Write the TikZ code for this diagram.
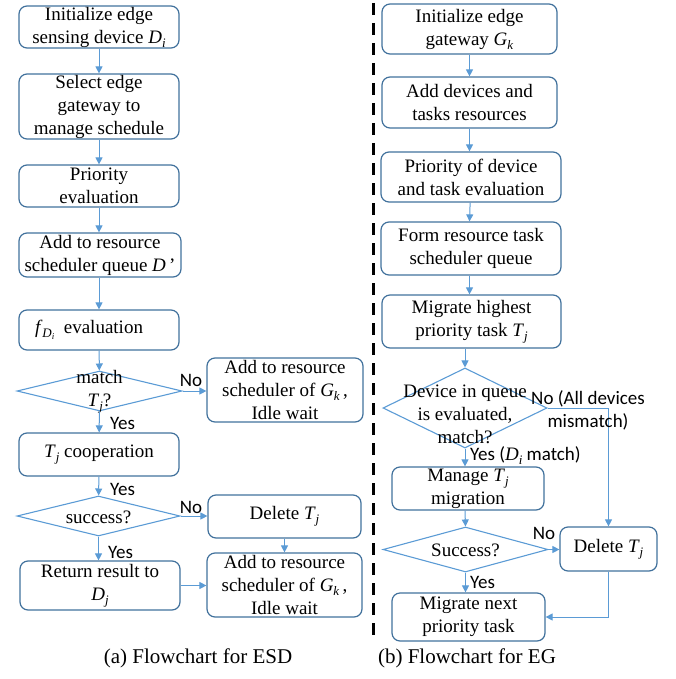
\documentclass[tikz,border=0pt]{standalone}
\usepackage{fontspec}
\setmainfont{Liberation Serif}
\newfontfamily\labfont{Carlito}
\newfontfamily\serfont{Liberation Serif}
\usetikzlibrary{shapes.geometric,arrows.meta}
\definecolor{boxc}{HTML}{41719C}
\definecolor{arrc}{HTML}{5B9BD5}
\newcommand\vsub[2]{\textit{#1}\raisebox{-4pt}{\fontsize{13}{13}\selectfont\textit{#2}}}
\begin{document}
\begin{tikzpicture}[x=1pt,y=-1pt,
  box/.style={draw=boxc,line width=1.2pt,rounded corners=8pt,inner sep=0pt,align=center,
    font=\serfont\fontsize{19}{23}\selectfont},
  dia/.style={draw=arrc,line width=1.1pt,shape=diamond,inner sep=0pt},
  dtext/.style={align=center,inner sep=0pt,font=\serfont\fontsize{19}{23}\selectfont},
  lab/.style={inner sep=0pt,align=center,font=\labfont\fontsize{19}{23}\selectfont},
  arr/.style={draw=arrc,line width=1pt,-{Triangle[length=7pt,width=7pt]}},
  captext/.style={inner sep=0pt,font=\serfont\fontsize{21}{25}\selectfont}]
\useasboundingbox (0,0) rectangle (675,679);
% ---------- left flowchart ----------
\node[box,minimum width=160pt,minimum height=42pt] (l1) at (99,27) {Initialize edge\\sensing device \vsub{D}{i}};
\node[box,minimum width=160pt,minimum height=65pt] (l2) at (99,106.5) {Select edge\\gateway to\\manage schedule};
\node[box,minimum width=160pt,minimum height=42pt] (l3) at (99,186) {Priority\\evaluation};
\node[box,minimum width=162pt,minimum height=44pt] (l4) at (100,255) {Add to resource\\scheduler queue \textit{D}\,’};
\node[box,minimum width=160pt,minimum height=40pt] (l5) at (99,330) {\textit{f}\raisebox{-4pt}{\fontsize{13}{13}\selectfont\textit{D}\raisebox{-2pt}{\fontsize{9}{9}\selectfont\textit{i}}}\ \ evaluation\hspace*{20pt}};
\node[dia,minimum width=165pt,minimum height=40pt] (d1) at (99.5,391) {};
\node[dtext] (d1t) at (99.5,391.5) {match\\\vsub{T}{j}?};
\node[box,minimum width=156pt,minimum height=64pt] (r1) at (285,390) {Add to resource\\scheduler of \vsub{G}{k}\,,\\Idle wait};
\node[box,minimum width=160pt,minimum height=43pt] (l6) at (99,454.5) {\vsub{T}{j} cooperation};
\node[dia,minimum width=163pt,minimum height=40pt] (d2) at (98.5,516) {};
\node[dtext] (d2t) at (98.5,517) {success?};
\node[box,minimum width=153pt,minimum height=43pt] (r2) at (284.5,516.5) {Delete \vsub{T}{j}};
\node[box,minimum width=155pt,minimum height=64pt] (r3) at (284.5,585) {Add to resource\\scheduler of \vsub{G}{k}\,,\\Idle wait};
\node[box,minimum width=160pt,minimum height=49pt] (l7) at (100,585.5) {Return result to\\\vsub{D}{j}};
\draw[arr] (l1) -- (l2);
\draw[arr] (l2) -- (l3);
\draw[arr] (l3) -- (l1.south |- l4.north);
\draw[arr] (l4.south -| l1.south) -- (l5);
\draw[arr] (l5) -- (d1);
\draw[arr] (d1.east) -- (r1.west |- d1.east);
\draw[arr] (d1) -- (l6);
\draw[arr] (l6) -- (d2);
\draw[arr] (d2.east) -- (r2.west |- d2.east);
\draw[arr] (r2) -- (r3);
\draw[arr] (d2.south) -- (d2.south |- l7.north);
\draw[arr] (l7.east) -- (r3.west |- l7.east);
\node[lab] (nol1) at (191,380) {No};
\node[lab,anchor=west] (yesl1) at (110,423) {Yes};
\node[lab,anchor=west] (yesl2) at (110,489) {Yes};
\node[lab] (nol2) at (191,507) {No};
\node[lab,anchor=west] (yesl3) at (108,552) {Yes};
% ---------- divider ----------
\coordinate (dvt) at (373,3);
\coordinate (dvb) at (373,640);
\draw[line width=3pt,dash pattern=on 12pt off 8pt] (dvt) -- (dvb);
% ---------- right flowchart ----------
\node[box,minimum width=175pt,minimum height=50pt] (g1) at (469.5,29) {Initialize edge\\gateway \vsub{G}{k}};
\node[box,minimum width=175pt,minimum height=51pt] (g2) at (469.5,102.5) {Add devices and\\tasks resources};
\node[box,minimum width=180pt,minimum height=50pt] (g3) at (471,177) {Priority of device\\and task evaluation};
\node[box,minimum width=180pt,minimum height=53pt] (g4) at (471,248.5) {Form resource task\\scheduler queue};
\node[box,minimum width=179pt,minimum height=53pt] (g5) at (471.5,321.5) {Migrate highest\\priority task \vsub{T}{j}};
\node[dia,minimum width=164pt,minimum height=80pt] (e1) at (465,408) {};
\node[dtext] (e1t) at (465,414.5) {Device in queue\\is evaluated,\\match?};
\node[box,minimum width=152pt,minimum height=43pt] (g6) at (468,488.5) {Manage \vsub{T}{j}\\migration};
\node[dia,minimum width=165pt,minimum height=45pt] (e2) at (465.5,549.5) {};
\node[dtext] (e2t) at (465.5,550) {Success?};
\node[box,minimum width=97pt,minimum height=44pt] (gd) at (608.5,549) {Delete \vsub{T}{j}};
\node[box,minimum width=153pt,minimum height=48pt] (g7) at (468.5,617) {Migrate next\\priority task};
\draw[arr] (g1) -- (g1.south |- g2.north);
\draw[arr] (g2) -- (g2.south |- g3.north);
\draw[arr] (g3) -- (g2.south |- g4.north);
\draw[arr] (g4.south -| g1.south) -- (g1.south |- g5.north);
\draw[arr] (e1.north |- g5.south) -- (e1.north);
\draw[arr] (e1.south) -- (e1.south |- g6.north);
\draw[arr] (e1.south |- g6.south) -- (e2.north);
\draw[arr] (e2.east) -- (gd.west |- e2.east);
\draw[arr] (e1.east) -- (gd.north |- e1.east) -- (gd.north);
\draw[arr] (gd.south) -- (gd.south |- g7.east) -- (g7.east);
\draw[arr] (e2.south) -- (e2.south |- g7.north);
\node[lab] (noe1) at (588,410) {No (All devices\\mismatch)};
\node[lab,anchor=west] (yese1) at (470,456) {Yes ({\serfont\fontsize{19}{23}\selectfont\vsub{D}{i}} match)};
\node[lab] (noe2) at (544,533) {No};
\node[lab,anchor=west] (yese2) at (470,582) {Yes};
% ---------- captions ----------
\node[captext] (capa) at (198,658) {(a) Flowchart for ESD};
\node[captext] (capb) at (467,658) {(b) Flowchart for EG};
\end{tikzpicture}
\end{document}
